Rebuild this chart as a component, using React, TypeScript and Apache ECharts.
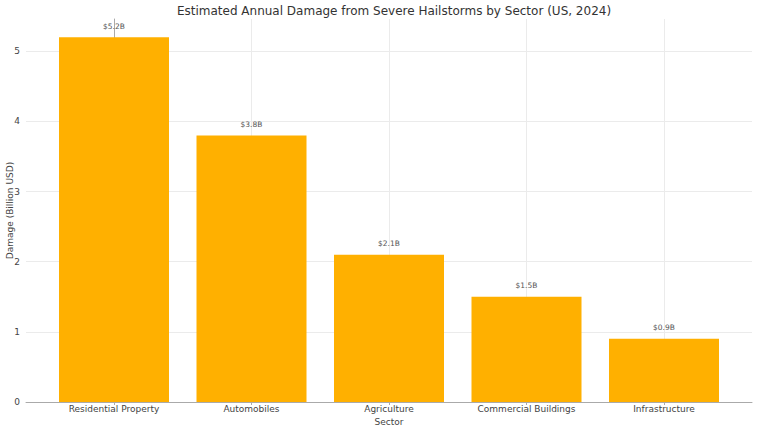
import React, { useEffect, useRef } from "react";
import * as echarts from "echarts";

const sectors = [
  "Residential Property",
  "Automobiles",
  "Agriculture",
  "Commercial Buildings",
  "Infrastructure",
];
const damage = [5.2, 3.8, 2.1, 1.5, 0.9];
const yTicks = [0, 1, 2, 3, 4, 5];
const xTicks = [0, 1, 2, 3, 4];

const FONT = "DejaVu Sans";

export default function App() {
  const ref = useRef<HTMLDivElement>(null);

  useEffect(() => {
    if (!ref.current) return;
    const chart = echarts.init(ref.current, null, { renderer: "svg" });
    chart.setOption({
      animation: false,
      backgroundColor: "#ffffff",
      textStyle: { fontFamily: FONT },
      title: {
        text: "Estimated Annual Damage from Severe Hailstorms by Sector (US, 2024)",
        left: 389,
        textAlign: "center",
        top: 0,
        textStyle: { fontFamily: FONT, fontSize: 12, fontWeight: "normal", color: "#333" },
      },
      grid: {
        left: 26,
        right: 6,
        top: 19,
        bottom: 29,
        containLabel: false,
        outerBoundsMode: "none",
      },
      xAxis: {
        type: "value",
        min: -0.64,
        max: 4.64,
        name: "Sector",
        nameLocation: "middle",
        nameGap: 15,
        nameMoveOverlap: false,
        nameTextStyle: { fontFamily: FONT, fontSize: 9, color: "#444" },
        axisLine: { show: true, lineStyle: { color: "#aaaaaa", width: 1 } },
        axisTick: {
          show: true,
          customValues: xTicks,
          length: 3,
          lineStyle: { color: "#aaaaaa" },
        },
        axisLabel: {
          customValues: xTicks,
          formatter: (v: number) => sectors[Math.round(v)] ?? "",
          fontFamily: FONT,
          fontSize: 9,
          color: "#444",
          margin: 2,
        },
        splitLine: { show: true, lineStyle: { color: "#ebebeb", width: 1 } },
      },
      yAxis: {
        type: "value",
        min: 0,
        max: 5.46,
        name: "Damage (Billion USD)",
        nameLocation: "middle",
        nameGap: 12,
        nameMoveOverlap: false,
        nameTextStyle: { fontFamily: FONT, fontSize: 9, color: "#444" },
        axisLine: { show: true, lineStyle: { color: "#aaaaaa", width: 1 } },
        axisTick: {
          show: true,
          customValues: yTicks,
          length: 3,
          lineStyle: { color: "#aaaaaa" },
        },
        axisLabel: {
          customValues: yTicks,
          fontFamily: FONT,
          fontSize: 9,
          color: "#444",
          margin: 6,
        },
        splitLine: { show: true, lineStyle: { color: "#ebebeb", width: 1 } },
      },
      series: [
        {
          type: "bar",
          data: damage.map((v, i) => [i, v]),
          barWidth: 110,
          itemStyle: { color: "#FFB000" },
          label: {
            show: true,
            position: "top",
            distance: 7,
            formatter: (p: any) => `$${p.value[1].toFixed(1)}B`,
            fontFamily: FONT,
            fontSize: 7.5,
            color: "#555",
          },
        },
      ],
    });
    return () => chart.dispose();
  }, []);

  return <div ref={ref} style={{ width: 758, height: 431, position: "absolute", left: 0, top: 0 }} />;
}
